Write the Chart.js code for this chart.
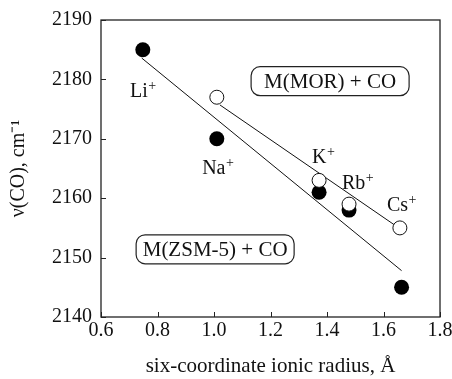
<!DOCTYPE html>
<html><head><meta charset="utf-8">
<script src="https://cdn.jsdelivr.net/npm/chart.js@4.4.1/dist/chart.umd.min.js"></script>
<style>html,body{margin:0;padding:0;background:#fff;}#wrap{width:452px;height:379px;}</style>
</head><body><div id="wrap"><canvas id="c" width="452" height="379"></canvas></div>
<script>
// ---- data ----
const ionNames = ['Li', 'Na', 'K', 'Rb', 'Cs'];
const radiusZSM = [0.748, 1.010, 1.372, 1.478, 1.664];
const nuZSM = [2185, 2170, 2161, 2158, 2145];
const radiusMOR = [1.010, 1.372, 1.478, 1.658];
const nuMOR = [2177, 2163, 2159, 2155];
const fitZSMx = [0.744, 1.664];
const fitZSMy = [2183.6, 2147.8];
const fitMORx = [1.021, 1.645];
const fitMORy = [2175.7, 2155.3];
const xTicks = [0.6, 0.8, 1.0, 1.2, 1.4, 1.6, 1.8];
const yTicks = [2140, 2150, 2160, 2170, 2180, 2190];
const seriesNames = ['M(ZSM-5) + CO', 'M(MOR) + CO'];

// label anchors (data coordinates) for ion labels and series boxes
const ionLabelAt = [[0.703, 2177.0], [0.958, 2164.1], [1.347, 2165.9], [1.453, 2161.5], [1.612, 2157.8]];
const boxAt = [[1.004, 2151.4], [1.411, 2179.7]];

const SERIF = '"Liberation Serif", "Times New Roman", serif';

const toXY = (xs, ys) => xs.map((x, i) => ({x: x, y: ys[i]}));

const decor = {
  id: 'decor',
  afterDraw(chart) {
    const ctx = chart.ctx, a = chart.chartArea;
    const xs = chart.scales.x, ys = chart.scales.y;
    ctx.save();
    ctx.strokeStyle = '#222';
    ctx.lineWidth = 1.3;
    ctx.strokeRect(a.left, a.top, a.right - a.left, a.bottom - a.top);
    ctx.lineWidth = 1;
    ctx.beginPath();
    xTicks.forEach(v => { const p = Math.round(xs.getPixelForValue(v)) + 0.5; ctx.moveTo(p, a.bottom); ctx.lineTo(p, a.bottom - 5); });
    yTicks.forEach(v => { const p = Math.round(ys.getPixelForValue(v)) + 0.5; ctx.moveTo(a.left, p); ctx.lineTo(a.left + 5, p); });
    ctx.stroke();

    // ion labels with superscript +
    ctx.fillStyle = '#111';
    ctx.textBaseline = 'alphabetic';
    ctx.textAlign = 'left';
    ionNames.forEach((n, i) => {
      const px = xs.getPixelForValue(ionLabelAt[i][0]);
      const py = ys.getPixelForValue(ionLabelAt[i][1]);
      ctx.font = '20px ' + SERIF;
      ctx.fillText(n, px, py);
      const w = ctx.measureText(n).width;
      ctx.font = '14px ' + SERIF;
      ctx.fillText('+', px + w + 0.5, py - 7);
    });

    // rounded boxes with series names
    const bw = 158, bh = 29, r = 9;
    seriesNames.forEach((t, i) => {
      const cx = xs.getPixelForValue(boxAt[i][0]);
      const cy = ys.getPixelForValue(boxAt[i][1]);
      const x0 = cx - bw / 2, y0 = cy - bh / 2;
      ctx.beginPath();
      ctx.moveTo(x0 + r, y0);
      ctx.lineTo(x0 + bw - r, y0);
      ctx.arcTo(x0 + bw, y0, x0 + bw, y0 + r, r);
      ctx.lineTo(x0 + bw, y0 + bh - r);
      ctx.arcTo(x0 + bw, y0 + bh, x0 + bw - r, y0 + bh, r);
      ctx.lineTo(x0 + r, y0 + bh);
      ctx.arcTo(x0, y0 + bh, x0, y0 + bh - r, r);
      ctx.lineTo(x0, y0 + r);
      ctx.arcTo(x0, y0, x0 + r, y0, r);
      ctx.closePath();
      ctx.lineWidth = 1.2;
      ctx.strokeStyle = '#222';
      ctx.stroke();
      ctx.font = '21px ' + SERIF;
      ctx.textAlign = 'center';
      ctx.textBaseline = 'middle';
      ctx.fillText(t, cx, cy + 1);
      ctx.textAlign = 'left';
      ctx.textBaseline = 'alphabetic';
    });
    ctx.restore();
  }
};

new Chart(document.getElementById('c'), {
  type: 'scatter',
  data: {
    datasets: [
      {label: 'fit ZSM', type: 'line', data: toXY(fitZSMx, fitZSMy), borderColor: '#111', borderWidth: 1, pointRadius: 0, fill: false, order: 4},
      {label: 'fit MOR', type: 'line', data: toXY(fitMORx, fitMORy), borderColor: '#111', borderWidth: 1, pointRadius: 0, fill: false, order: 3},
      {label: seriesNames[0], data: toXY(radiusZSM, nuZSM), pointRadius: 7.5, pointBackgroundColor: '#000', pointBorderColor: '#000', pointBorderWidth: 0, order: 2},
      {label: seriesNames[1], data: toXY(radiusMOR, nuMOR), pointRadius: 7, pointBackgroundColor: '#fff', pointBorderColor: '#111', pointBorderWidth: 1, order: 1}
    ]
  },
  options: {
    responsive: false,
    animation: false,
    layout: {padding: {left: 0, top: 20, right: 12, bottom: 0}},
    plugins: {legend: {display: false}, tooltip: {enabled: false}},
    scales: {
      x: {
        type: 'linear', min: 0.6, max: 1.8,
        afterBuildTicks: s => { s.ticks = xTicks.map(v => ({value: v})); },
        afterFit: s => { s.height = 62; s.paddingLeft = 0; s.paddingRight = 0; },
        grid: {display: false, drawTicks: false},
        border: {display: false},
        ticks: {padding: 2, color: '#111', font: {family: SERIF, size: 20}, maxRotation: 0, callback: v => Number(v).toFixed(1)},
        title: {display: true, text: 'six-coordinate ionic radius, Å', color: '#111', font: {family: SERIF, size: 21}, padding: {top: 0, bottom: 0}}
      },
      y: {
        type: 'linear', min: 2140, max: 2190,
        afterBuildTicks: s => { s.ticks = yTicks.map(v => ({value: v})); },
        afterFit: s => { s.width = 101; s.paddingTop = 0; s.paddingBottom = 0; },
        grid: {display: false, drawTicks: false},
        border: {display: false},
        ticks: {padding: 9, color: '#111', font: {family: SERIF, size: 20}, callback: v => String(v)},
        title: {display: true, text: 'ν(CO), cm⁻¹', color: '#111', font: {family: SERIF, size: 20}, padding: {top: 7, bottom: 0}}
      }
    }
  },
  plugins: [decor]
});
</script>
</body></html>
